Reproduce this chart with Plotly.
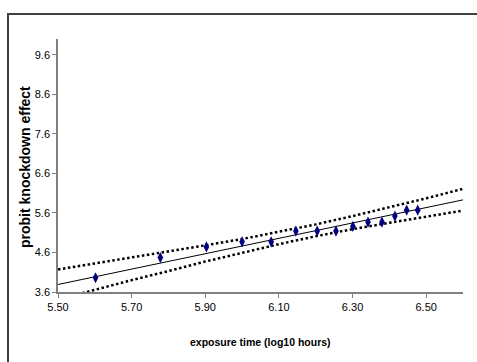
import plotly.graph_objects as go

# observed data (log10 exposure time vs probit knockdown)
x_obs = [5.602, 5.778, 5.903, 6.000, 6.079, 6.146, 6.204, 6.255, 6.301, 6.342, 6.380, 6.415, 6.447, 6.477]
y_obs = [3.96, 4.47, 4.74, 4.87, 4.87, 5.14, 5.14, 5.14, 5.26, 5.37, 5.37, 5.52, 5.67, 5.67]

# fitted regression line
x_fit = [5.50, 6.60]
y_fit = [3.79, 5.93]

# confidence bands
x_band = [5.50, 5.60, 5.70, 5.80, 5.90, 6.00, 6.10, 6.20, 6.30, 6.40, 6.50, 6.60]
y_upper = [4.17, 4.32, 4.47, 4.62, 4.78, 4.94, 5.12, 5.31, 5.52, 5.74, 5.97, 6.21]
y_lower = [3.41, 3.66, 3.90, 4.13, 4.37, 4.59, 4.81, 5.01, 5.19, 5.35, 5.51, 5.66]

x_title = "exposure time (log10 hours)"
y_title = "probit knockdown effect"

FONT = "Liberation Sans Narrow, Arial Narrow, Liberation Sans, Arial, sans-serif"

fig = go.Figure()
for yb in (y_upper, y_lower):
    fig.add_trace(go.Scatter(x=x_band, y=yb, mode="lines",
                             line=dict(color="black", width=2.5, dash="2.5px,2.5px"),
                             hoverinfo="skip", showlegend=False))
fig.add_trace(go.Scatter(x=x_fit, y=y_fit, mode="lines",
                         line=dict(color="black", width=1), showlegend=False))
fig.add_trace(go.Scatter(x=x_obs, y=y_obs, mode="markers",
                         marker=dict(symbol="diamond-tall", size=8, color="#000080",
                                     line=dict(width=0)),
                         showlegend=False))

L, R, T, B = 58, 14, 39, 70
W, H = 477, 362
pw = W - L - R
ph = H - T - B

def px(xp):
    return (xp - L) / pw

def py(yp):
    return (H - B - yp) / ph

fig.update_layout(
    width=W, height=H,
    margin=dict(l=L, r=R, t=T, b=B, pad=0),
    paper_bgcolor="white", plot_bgcolor="white",
    font=dict(family=FONT, size=11, color="black"),
    xaxis=dict(range=[5.5, 6.6], tick0=5.5, dtick=0.2, tickformat=".2f",
               showgrid=False, zeroline=False, showline=True, linecolor="#808080",
               linewidth=1.5, ticks="outside", ticklen=4, tickcolor="#808080",
               tickfont=dict(family=FONT, size=11, color="black")),
    yaxis=dict(range=[3.6, 10.0], tick0=3.6, dtick=1, tickformat=".1f",
               showgrid=False, zeroline=False, showline=True, linecolor="#808080",
               linewidth=1.5, ticks="outside", ticklen=4, tickcolor="#808080",
               tickfont=dict(family=FONT, size=11, color="black")),
    shapes=[dict(type="rect", xref="paper", yref="paper",
                 x0=px(8), y0=py(380), x1=px(490), y1=py(14),
                 line=dict(color="#404040", width=2), fillcolor="rgba(0,0,0,0)",
                 layer="below")],
    annotations=[
        dict(text="<b>%s</b>" % x_title, xref="paper", yref="paper",
             x=px(260), y=py(342), xanchor="center", yanchor="middle",
             showarrow=False, font=dict(family=FONT, size=10.5, color="black")),
        dict(text="<b>%s</b>" % y_title, xref="paper", yref="paper",
             x=px(25), y=py(167), xanchor="center", yanchor="middle", textangle=-90,
             showarrow=False, font=dict(family="Liberation Sans, Arial, sans-serif", size=14, color="black")),
    ],
)

fig.write_html("out.html", config={"displayModeBar": False},
               post_script="document.body.style.margin='0';document.body.style.overflow='hidden';")
